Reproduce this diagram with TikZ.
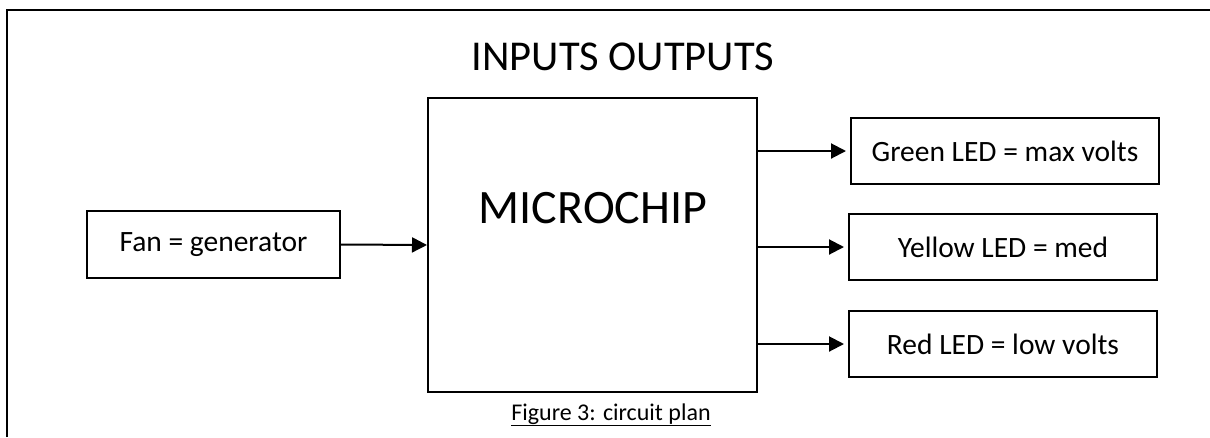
\documentclass[tikz,border=0pt]{standalone}
\usepackage{fontspec}
\setmainfont{Carlito}
\usetikzlibrary{arrows.meta}
\begin{document}
\begin{tikzpicture}[x=1pt,y=-1pt,
  box/.style={draw, line width=2pt, inner sep=0pt, font=\fontsize{29.5}{33}\selectfont},
  arr/.style={line width=2pt, -{Triangle[length=15pt,width=15pt]}, shorten >=4pt}]
\useasboundingbox (0,0) rectangle (1210,437);
\draw[line width=2pt] (7,437) -- (7,10) -- (1210,10);
\node[anchor=base, font=\fontsize{42.5}{46}\selectfont] (title) at (623,70) {INPUTS OUTPUTS};
\node[box, minimum width=253pt, minimum height=67pt] (fan) at (213.5,244.5) {Fan = generator};
\node[draw, line width=2pt, minimum width=329pt, minimum height=294pt] (chip) at (592.5,245) {};
\node[anchor=base, font=\fontsize{48}{52}\selectfont] (chiplabel) at (593,223) {MICROCHIP};
\node[box, minimum width=308pt, minimum height=66pt] (green) at (1005,151) {Green LED = max volts};
\node[box, minimum width=308pt, minimum height=66pt] (yellow) at (1003,247) {Yellow LED = med};
\node[box, minimum width=308pt, minimum height=66pt] (red) at (1003,344) {Red LED = low volts};
\node[anchor=base, font=\fontsize{24}{27}\selectfont] (caption) at (611,420) {\underline{Figure 3: circuit plan}};
\draw[arr, shorten >=0pt] (fan.east) -- (chip.west);
\draw[arr] (chip.east |- green.west) -- (green.west);
\draw[arr] (chip.east |- yellow.west) -- (yellow.west);
\draw[arr] (chip.east |- red.west) -- (red.west);
\end{tikzpicture}
\end{document}
